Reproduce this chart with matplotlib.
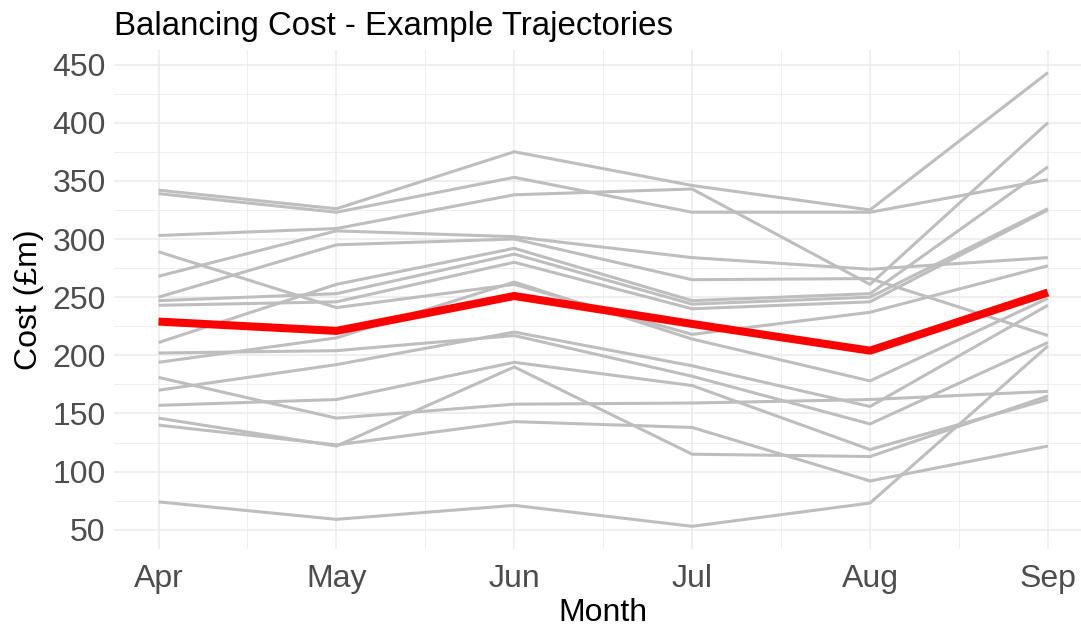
import numpy as np
import matplotlib.pyplot as plt

plt.rcParams['font.family'] = ['Liberation Sans', 'DejaVu Sans']

months = ['Apr', 'May', 'Jun', 'Jul', 'Aug', 'Sep']

# example trajectories (cost in £m), one list per simulated path
trajectories = [
    [342, 326, 375, 346, 325, 443],
    [339, 323, 353, 323, 323, 351],
    [303, 309, 338, 343, 261, 400],
    [268, 307, 302, 284, 274, 284],
    [250, 295, 300, 265, 266, 217],
    [211, 261, 292, 247, 253, 362],
    [247, 253, 287, 244, 250, 326],
    [243, 246, 280, 240, 246, 325],
    [289, 241, 261, 218, 237, 277],
    [194, 215, 263, 214, 178, 249],
    [202, 204, 217, 182, 141, 211],
    [170, 192, 220, 191, 156, 243],
    [157, 162, 194, 174, 119, 162],
    [181, 146, 158, 159, 162, 169],
    [140, 123, 143, 138, 92, 122],
    [146, 122, 190, 115, 113, 165],
    [74, 59, 71, 53, 73, 208],
]
highlight = [229, 221, 251, 227, 204, 254]

x = np.arange(1, len(months) + 1)

fig = plt.figure(figsize=(10.81, 6.28), dpi=100)
ax = fig.add_axes([0.1055, 0.1258, 0.905, 0.7946])

for t in trajectories:
    ax.plot(x, t, color='#BEBEBE', lw=2.2, solid_capstyle='butt', zorder=2)
ax.plot(x, highlight, color='red', lw=5.8, solid_capstyle='butt', zorder=3)

ax.set_xlim(0.75, 6.25)
ax.set_ylim(33.5, 462.5)
ax.set_xticks(x)
ax.set_xticklabels(months)
ax.set_xticks(x[:-1] + 0.5, minor=True)
ax.set_yticks(np.arange(50, 451, 50))
ax.set_yticks(np.arange(75, 451, 50), minor=True)

ax.grid(True, which='major', color='#EBEBEB', lw=1.1, zorder=0)
ax.grid(True, which='minor', color='#EBEBEB', lw=0.6, zorder=0)
ax.set_axisbelow(True)
for s in ax.spines.values():
    s.set_visible(False)
ax.tick_params(which='both', length=0)
ax.tick_params(axis='both', labelsize=23, labelcolor='#4D4D4D')
ax.tick_params(axis='x', pad=11)
ax.tick_params(axis='y', pad=6)

ax.set_xlabel('Month', fontsize=23, labelpad=3)
ax.set_ylabel('Cost (£m)', fontsize=23, labelpad=6)
ax.set_title('Balancing Cost - Example Trajectories', fontsize=23.8, loc='left', pad=11)

fig.savefig('out.png', dpi=100)
